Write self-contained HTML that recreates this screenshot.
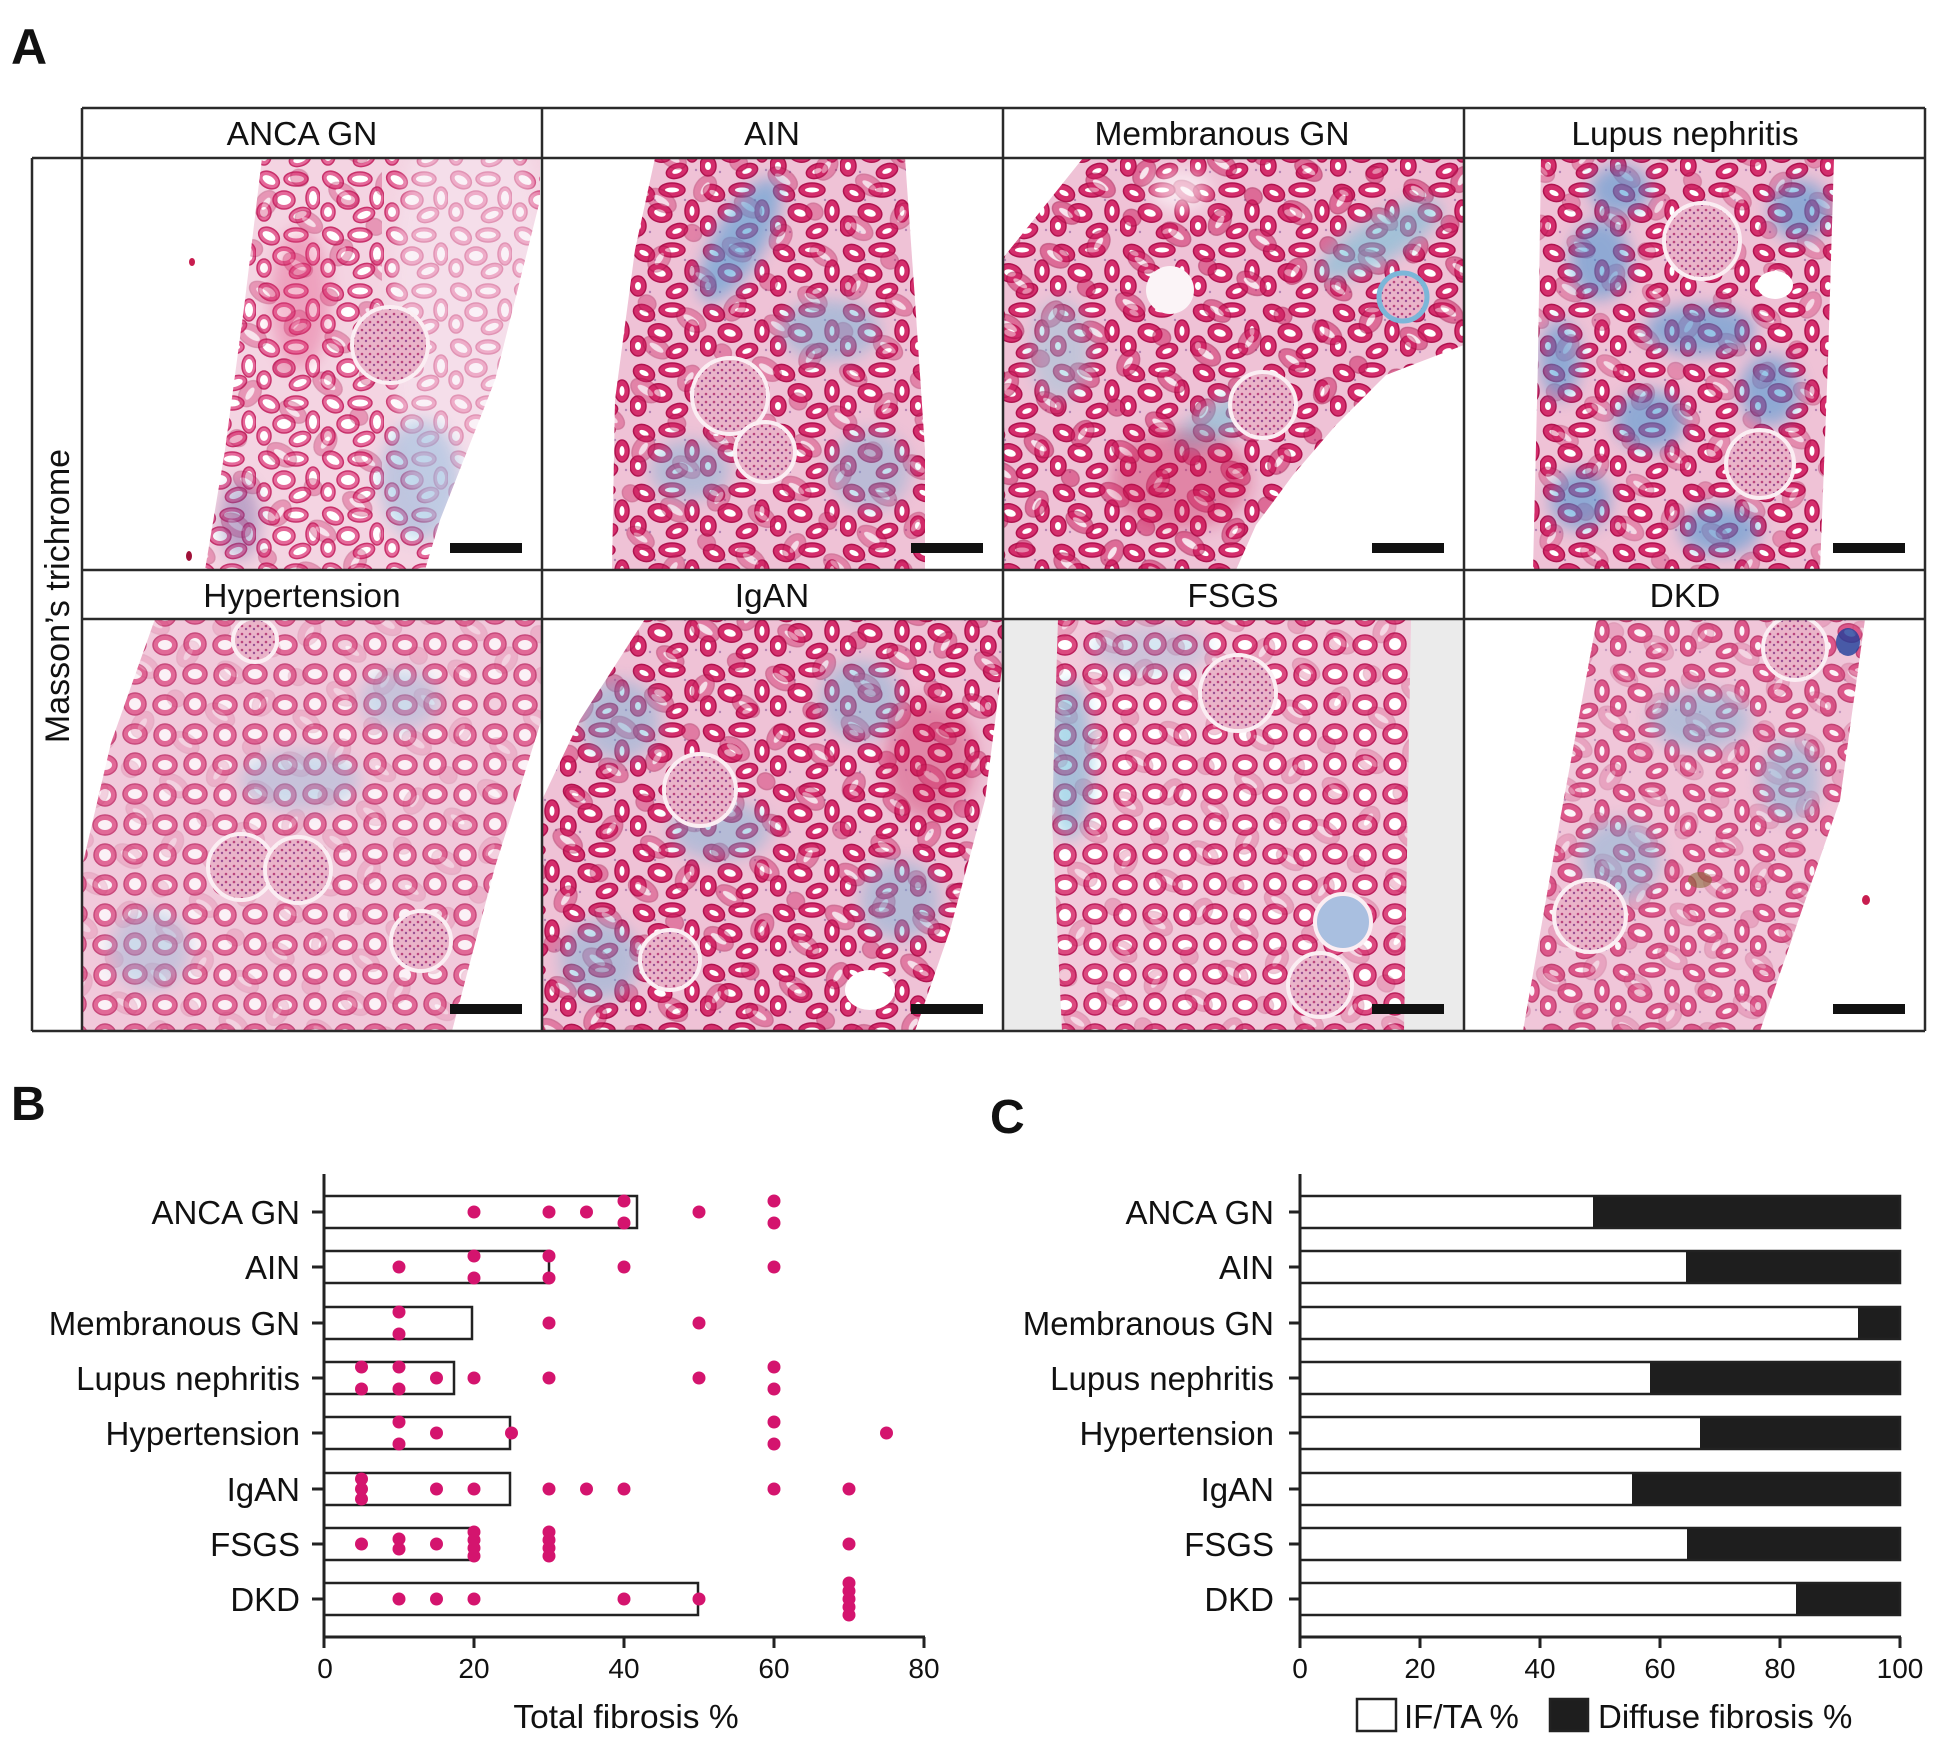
<!DOCTYPE html>
<html><head><meta charset="utf-8"><style>html,body{margin:0;padding:0;background:#fff}svg{display:block}</style></head>
<body>
<svg width="1941" height="1744" viewBox="0 0 1941 1744" xmlns="http://www.w3.org/2000/svg" font-family="Liberation Sans, Arial, sans-serif">
<defs>
<pattern id="pA" width="70" height="60" patternUnits="userSpaceOnUse">
<rect width="70" height="60" fill="#efc2d6"/>
<g fill="#d42e6c" stroke="#b0124e" stroke-width="1.5">
<ellipse cx="14" cy="13" rx="11" ry="8" transform="rotate(25 14 13)"/>
<ellipse cx="42" cy="10" rx="13" ry="7"/>
<ellipse cx="62" cy="31" rx="7" ry="11"/>
<ellipse cx="30" cy="33" rx="12" ry="9" transform="rotate(15 30 33)"/>
<ellipse cx="8" cy="46" rx="8" ry="10"/>
<ellipse cx="47" cy="51" rx="11" ry="7" transform="rotate(-20 47 51)"/>
</g>
<g fill="#fff">
<ellipse cx="14" cy="13" rx="5" ry="2.5" transform="rotate(25 14 13)"/>
<ellipse cx="42" cy="10" rx="7" ry="2.5"/>
<ellipse cx="62" cy="31" rx="2.5" ry="5"/>
<ellipse cx="30" cy="33" rx="6" ry="3.5" transform="rotate(15 30 33)"/>
<ellipse cx="8" cy="46" rx="3" ry="4"/>
<ellipse cx="47" cy="51" rx="5" ry="2.5" transform="rotate(-20 47 51)"/>
</g>
<g fill="#8d5a9e" opacity=".6"><circle cx="25" cy="20" r="1.2"/><circle cx="55" cy="20" r="1.2"/><circle cx="20" cy="52" r="1.2"/><circle cx="66" cy="50" r="1.2"/></g>
</pattern>
<pattern id="pA2" width="90" height="84" patternUnits="userSpaceOnUse" patternTransform="rotate(33)">
<rect width="90" height="84" fill="none"/>
<g fill="#cf2464" stroke="#a80e48" stroke-width="1.5">
<ellipse cx="20" cy="18" rx="15" ry="9"/>
<ellipse cx="64" cy="26" rx="10" ry="14"/>
<ellipse cx="34" cy="60" rx="16" ry="10"/>
<ellipse cx="78" cy="70" rx="9" ry="8"/>
</g>
<g fill="#fff">
<ellipse cx="20" cy="18" rx="8" ry="3"/>
<ellipse cx="64" cy="26" rx="3" ry="7"/>
<ellipse cx="34" cy="60" rx="9" ry="3.5"/>
</g>
</pattern>
<pattern id="pB" width="64" height="56" patternUnits="userSpaceOnUse">
<rect width="64" height="56" fill="#f4d4e2"/>
<g fill="#e5699a" stroke="#c8316b" stroke-width="1.5">
<ellipse cx="13" cy="12" rx="11" ry="8" transform="rotate(30 13 12)"/>
<ellipse cx="40" cy="11" rx="12" ry="7"/>
<ellipse cx="57" cy="30" rx="7" ry="11"/>
<ellipse cx="28" cy="32" rx="11" ry="9"/>
<ellipse cx="8" cy="44" rx="7" ry="9"/>
<ellipse cx="44" cy="47" rx="11" ry="7" transform="rotate(-20 44 47)"/>
</g>
<g fill="#fff">
<ellipse cx="13" cy="12" rx="7" ry="4" transform="rotate(30 13 12)"/>
<ellipse cx="40" cy="11" rx="8" ry="3.5"/>
<ellipse cx="57" cy="30" rx="4" ry="7"/>
<ellipse cx="28" cy="32" rx="7" ry="5"/>
<ellipse cx="8" cy="44" rx="4" ry="5"/>
<ellipse cx="44" cy="47" rx="7" ry="3.5" transform="rotate(-20 44 47)"/>
</g>
</pattern>
<pattern id="pC" width="60" height="60" patternUnits="userSpaceOnUse">
<rect width="60" height="60" fill="#f2cadb"/>
<g fill="#dc4a80" stroke="#bb1f5c" stroke-width="1.5">
<ellipse cx="15" cy="14" rx="12" ry="10"/>
<ellipse cx="45" cy="15" rx="11" ry="11"/>
<ellipse cx="15" cy="44" rx="11" ry="11"/>
<ellipse cx="45" cy="45" rx="12" ry="10"/>
</g>
<g fill="#fff">
<ellipse cx="15" cy="14" rx="7" ry="5"/>
<ellipse cx="45" cy="15" rx="6" ry="6"/>
<ellipse cx="15" cy="44" rx="6" ry="6"/>
<ellipse cx="45" cy="45" rx="7" ry="5"/>
</g>
</pattern>
<pattern id="pG" width="8" height="8" patternUnits="userSpaceOnUse">
<rect width="8" height="8" fill="#eab4c9"/>
<circle cx="2" cy="2" r="1.3" fill="#b9457e"/><circle cx="6" cy="5" r="1.2" fill="#9a4f95"/>
</pattern>
<filter id="bl" x="-50%" y="-50%" width="200%" height="200%"><feGaussianBlur stdDeviation="8"/></filter>
<clipPath id="t1"><polygon points="262,158 540,158 540,200 495,380 440,520 425,570 205,570 225,450 245,300"/></clipPath>
<clipPath id="t2"><polygon points="655,158 905,158 915,300 925,450 925,570 612,570 615,400 635,250"/></clipPath>
<clipPath id="t3"><polygon points="1083,158 1464,158 1464,345 1386,375 1336,425 1293,475 1256,525 1236,570 1003,570 1003,258"/></clipPath>
<clipPath id="t4"><polygon points="1541,158 1834,158 1828,360 1820,570 1533,570 1538,360"/></clipPath>
<clipPath id="t5"><polygon points="155,619 542,619 542,718 495,867 452,1031 82,1031 82,867 111,743"/></clipPath>
<clipPath id="t6"><polygon points="645,619 1003,619 1003,660 985,800 950,930 915,1031 542,1031 542,800 580,720"/></clipPath>
<clipPath id="t7"><polygon points="1058,619 1411,619 1404,1031 1062,1031 1052,820"/></clipPath>
<clipPath id="t8"><polygon points="1597,619 1865,619 1840,800 1760,1031 1523,1031 1560,820"/></clipPath>
</defs>

<!-- Panel letters -->
<text x="11" y="64" font-size="50" font-weight="bold" fill="#111">A</text>
<text x="11" y="1120" font-size="48" font-weight="bold" fill="#111">B</text>
<text x="990" y="1133" font-size="48" font-weight="bold" fill="#111">C</text>

<!-- FSGS gray background -->
<rect x="1003" y="619" width="461" height="412" fill="#ebebeb"/>

<!-- Tissue 1 ANCA -->
<g clip-path="url(#t1)">
<rect x="82" y="158" width="460" height="412" fill="url(#pB)"/>
<rect x="82" y="158" width="300" height="412" fill="url(#pA2)" opacity=".35"/>
<ellipse cx="470" cy="320" rx="80" ry="230" fill="#f6e6f0" opacity=".55" filter="url(#bl)"/>
<ellipse cx="420" cy="480" rx="40" ry="60" fill="#7fb4dc" opacity=".45" filter="url(#bl)"/>
<ellipse cx="300" cy="300" rx="30" ry="70" fill="#e2437c" opacity=".35" filter="url(#bl)"/>
<ellipse cx="240" cy="520" rx="20" ry="40" fill="#6a5aa0" opacity=".4" filter="url(#bl)"/>
<circle cx="390" cy="345" r="38" fill="url(#pG)" stroke="#fbeef3" stroke-width="4"/>
</g>
<ellipse cx="192" cy="262" rx="3" ry="4" fill="#c81d4f"/>
<ellipse cx="189" cy="556" rx="3" ry="5" fill="#a01038"/>

<!-- Tissue 2 AIN -->
<g clip-path="url(#t2)">
<rect x="542" y="158" width="461" height="412" fill="url(#pA)"/>
<rect x="542" y="158" width="461" height="412" fill="url(#pA2)" opacity=".4"/>
<ellipse cx="740" cy="240" rx="25" ry="70" fill="#4d9fd6" opacity=".6" filter="url(#bl)" transform="rotate(30 740 240)"/>
<ellipse cx="830" cy="330" rx="50" ry="30" fill="#6fb3d8" opacity=".5" filter="url(#bl)"/>
<ellipse cx="690" cy="470" rx="40" ry="30" fill="#6fb3d8" opacity=".45" filter="url(#bl)"/>
<ellipse cx="870" cy="470" rx="40" ry="40" fill="#6fb3d8" opacity=".4" filter="url(#bl)"/>
<circle cx="730" cy="396" r="38" fill="url(#pG)" stroke="#fbeef3" stroke-width="4"/>
<circle cx="765" cy="452" r="30" fill="url(#pG)" stroke="#fbeef3" stroke-width="4"/>
</g>

<!-- Tissue 3 Membranous -->
<g clip-path="url(#t3)">
<rect x="1003" y="158" width="461" height="412" fill="url(#pA)"/>
<rect x="1003" y="158" width="461" height="412" fill="url(#pA2)" opacity=".55"/>
<ellipse cx="1380" cy="240" rx="70" ry="22" fill="#6fc0d8" opacity=".6" filter="url(#bl)" transform="rotate(-30 1380 240)"/>
<ellipse cx="1220" cy="420" rx="50" ry="18" fill="#6fc0d8" opacity=".55" filter="url(#bl)" transform="rotate(-30 1220 420)"/>
<ellipse cx="1060" cy="350" rx="30" ry="50" fill="#8ac6dc" opacity=".45" filter="url(#bl)"/>
<ellipse cx="1180" cy="190" rx="30" ry="20" fill="#ffffff" opacity=".6" filter="url(#bl)"/>
<ellipse cx="1180" cy="480" rx="70" ry="50" fill="#c8124f" opacity=".35" filter="url(#bl)"/>
<circle cx="1263" cy="405" r="33" fill="url(#pG)" stroke="#fbeef3" stroke-width="4"/>
<circle cx="1403" cy="297" r="24" fill="url(#pG)" stroke="#7cb6d8" stroke-width="5"/>
<circle cx="1170" cy="290" r="24" fill="#fbf4f7"/>
</g>

<!-- Tissue 4 Lupus -->
<g clip-path="url(#t4)">
<rect x="1464" y="158" width="461" height="412" fill="url(#pA)"/>
<rect x="1464" y="158" width="461" height="412" fill="url(#pA2)" opacity=".35"/>
<g fill="#3f95d3" opacity=".55" filter="url(#bl)">
<ellipse cx="1600" cy="260" rx="30" ry="40"/>
<ellipse cx="1700" cy="330" rx="55" ry="25"/>
<ellipse cx="1650" cy="420" rx="35" ry="30"/>
<ellipse cx="1770" cy="390" rx="30" ry="35"/>
<ellipse cx="1580" cy="500" rx="30" ry="30"/>
<ellipse cx="1800" cy="210" rx="30" ry="30"/>
<ellipse cx="1720" cy="530" rx="40" ry="25"/>
<ellipse cx="1620" cy="190" rx="30" ry="25"/>
<ellipse cx="1560" cy="360" rx="20" ry="40"/>
</g>
<circle cx="1702" cy="241" r="38" fill="url(#pG)" stroke="#fbeef3" stroke-width="4"/>
<circle cx="1760" cy="464" r="34" fill="url(#pG)" stroke="#fbeef3" stroke-width="4"/>
<ellipse cx="1775" cy="285" rx="18" ry="14" fill="#fff"/>
</g>

<!-- Tissue 5 Hypertension -->
<g clip-path="url(#t5)">
<rect x="82" y="619" width="460" height="412" fill="url(#pC)"/>
<rect x="82" y="619" width="460" height="412" fill="url(#pA2)" opacity=".2"/>
<rect x="82" y="619" width="460" height="412" fill="#f0c9da" opacity=".25"/>
<g fill="#8ab8da" opacity=".4" filter="url(#bl)">
<ellipse cx="300" cy="780" rx="60" ry="30"/>
<ellipse cx="150" cy="950" rx="40" ry="40"/>
<ellipse cx="400" cy="700" rx="40" ry="30"/>
</g>
<circle cx="241" cy="867" r="33" fill="url(#pG)" stroke="#fbeef3" stroke-width="4"/>
<circle cx="298" cy="870" r="33" fill="url(#pG)" stroke="#fbeef3" stroke-width="4"/>
<circle cx="421" cy="941" r="30" fill="url(#pG)" stroke="#fbeef3" stroke-width="4"/>
<circle cx="255" cy="640" r="22" fill="url(#pG)" stroke="#fbeef3" stroke-width="4"/>
</g>

<!-- Tissue 6 IgAN -->
<g clip-path="url(#t6)">
<rect x="542" y="619" width="461" height="412" fill="url(#pA)"/>
<rect x="542" y="619" width="461" height="412" fill="url(#pA2)" opacity=".45"/>
<g fill="#6fb3d8" opacity=".45" filter="url(#bl)">
<ellipse cx="620" cy="720" rx="40" ry="40"/>
<ellipse cx="720" cy="830" rx="50" ry="30"/>
<ellipse cx="860" cy="700" rx="40" ry="40"/>
<ellipse cx="900" cy="900" rx="40" ry="40"/>
<ellipse cx="600" cy="960" rx="40" ry="40"/>
</g>
<ellipse cx="930" cy="760" rx="45" ry="60" fill="#c8124f" opacity=".35" filter="url(#bl)"/>
<circle cx="700" cy="790" r="36" fill="url(#pG)" stroke="#fbeef3" stroke-width="4"/>
<circle cx="670" cy="960" r="30" fill="url(#pG)" stroke="#fbeef3" stroke-width="4"/>
<ellipse cx="870" cy="990" rx="25" ry="20" fill="#fff"/>
</g>

<!-- Tissue 7 FSGS -->
<g clip-path="url(#t7)">
<rect x="1003" y="619" width="461" height="412" fill="url(#pC)"/>
<rect x="1003" y="619" width="461" height="412" fill="url(#pA2)" opacity=".25"/>
<ellipse cx="1070" cy="760" rx="22" ry="80" fill="#5fb3d6" opacity=".5" filter="url(#bl)"/>
<ellipse cx="1150" cy="650" rx="60" ry="25" fill="#8ab8da" opacity=".35" filter="url(#bl)"/>
<circle cx="1238" cy="693" r="38" fill="url(#pG)" stroke="#fbeef3" stroke-width="4"/>
<circle cx="1343" cy="922" r="28" fill="#a9bfe0" stroke="#fbeef3" stroke-width="4"/>
<circle cx="1320" cy="985" r="32" fill="url(#pG)" stroke="#fbeef3" stroke-width="4"/>
</g>

<!-- Tissue 8 DKD -->
<g clip-path="url(#t8)">
<rect x="1464" y="619" width="461" height="412" fill="url(#pA)"/>
<rect x="1464" y="619" width="461" height="412" fill="url(#pA2)" opacity=".3"/>
<rect x="1464" y="619" width="461" height="412" fill="#f4d4e2" opacity=".25"/>
<g fill="#6fb3d8" opacity=".45" filter="url(#bl)">
<ellipse cx="1700" cy="720" rx="50" ry="30"/>
<ellipse cx="1620" cy="860" rx="40" ry="40"/>
<ellipse cx="1790" cy="780" rx="30" ry="40"/>
</g>
<ellipse cx="1848" cy="642" rx="12" ry="14" fill="#1e3f9a" opacity=".8"/>
<circle cx="1795" cy="648" r="32" fill="url(#pG)" stroke="#fbeef3" stroke-width="4"/>
<circle cx="1590" cy="916" r="36" fill="url(#pG)" stroke="#fbeef3" stroke-width="4"/>
<ellipse cx="1700" cy="880" rx="12" ry="8" fill="#8a6a3a" opacity=".6"/>
</g>
<ellipse cx="1866" cy="900" rx="4" ry="5" fill="#c81d4f"/>

<!-- Scale bars -->
<g fill="#111">
<rect x="450" y="543" width="72" height="10"/>
<rect x="911" y="543" width="72" height="10"/>
<rect x="1372" y="543" width="72" height="10"/>
<rect x="1833" y="543" width="72" height="10"/>
<rect x="450" y="1004" width="72" height="10"/>
<rect x="911" y="1004" width="72" height="10"/>
<rect x="1372" y="1004" width="72" height="10"/>
<rect x="1833" y="1004" width="72" height="10"/>
</g>

<!-- Grid lines -->
<g stroke="#2a2a2a" stroke-width="2.5" fill="none">
<line x1="82" y1="108" x2="1925" y2="108"/>
<line x1="32" y1="158" x2="1925" y2="158"/>
<line x1="82" y1="570" x2="1925" y2="570"/>
<line x1="82" y1="619" x2="1925" y2="619"/>
<line x1="32" y1="1031" x2="1925" y2="1031"/>
<line x1="32" y1="158" x2="32" y2="1031"/>
<line x1="82" y1="108" x2="82" y2="1031"/>
<line x1="542" y1="108" x2="542" y2="1031"/>
<line x1="1003" y1="108" x2="1003" y2="1031"/>
<line x1="1464" y1="108" x2="1464" y2="1031"/>
<line x1="1925" y1="108" x2="1925" y2="1031"/>
</g>

<!-- Headers -->
<g font-size="33.5" fill="#111" text-anchor="middle">
<text x="302" y="145">ANCA GN</text>
<text x="772" y="145">AIN</text>
<text x="1222" y="145">Membranous GN</text>
<text x="1685" y="145">Lupus nephritis</text>
<text x="302" y="607">Hypertension</text>
<text x="772" y="607">IgAN</text>
<text x="1233" y="607">FSGS</text>
<text x="1685" y="607">DKD</text>
</g>
<text transform="translate(69 596) rotate(-90)" font-size="34" fill="#111" text-anchor="middle">Masson’s trichrome</text>

<!-- Panel B -->
<g stroke="#222" stroke-width="2.5" fill="#fff">
<rect x="324" y="1196" width="313" height="32"/>
<rect x="324" y="1251" width="225" height="32"/>
<rect x="324" y="1307" width="148" height="32"/>
<rect x="324" y="1362" width="130" height="32"/>
<rect x="324" y="1417" width="186" height="32"/>
<rect x="324" y="1473" width="186" height="32"/>
<rect x="324" y="1528" width="148" height="32"/>
<rect x="324" y="1583" width="374" height="32"/>
</g>
<g fill="#d4146e">
<circle cx="474" cy="1212" r="6.5"/><circle cx="549" cy="1212" r="6.5"/><circle cx="586.5" cy="1212" r="6.5"/>
<circle cx="624" cy="1201" r="6.5"/><circle cx="624" cy="1223" r="6.5"/><circle cx="699" cy="1212" r="6.5"/>
<circle cx="774" cy="1201" r="6.5"/><circle cx="774" cy="1223" r="6.5"/>
<circle cx="399" cy="1267" r="6.5"/><circle cx="474" cy="1256" r="6.5"/><circle cx="474" cy="1278" r="6.5"/>
<circle cx="549" cy="1256" r="6.5"/><circle cx="549" cy="1278" r="6.5"/><circle cx="624" cy="1267" r="6.5"/><circle cx="774" cy="1267" r="6.5"/>
<circle cx="399" cy="1312" r="6.5"/><circle cx="399" cy="1334" r="6.5"/><circle cx="549" cy="1323" r="6.5"/><circle cx="699" cy="1323" r="6.5"/>
<circle cx="361.5" cy="1367" r="6.5"/><circle cx="361.5" cy="1389" r="6.5"/><circle cx="399" cy="1367" r="6.5"/><circle cx="399" cy="1389" r="6.5"/>
<circle cx="436.5" cy="1378" r="6.5"/><circle cx="474" cy="1378" r="6.5"/><circle cx="549" cy="1378" r="6.5"/><circle cx="699" cy="1378" r="6.5"/>
<circle cx="774" cy="1367" r="6.5"/><circle cx="774" cy="1389" r="6.5"/>
<circle cx="399" cy="1422" r="6.5"/><circle cx="399" cy="1444" r="6.5"/><circle cx="436.5" cy="1433" r="6.5"/><circle cx="511.5" cy="1433" r="6.5"/>
<circle cx="774" cy="1422" r="6.5"/><circle cx="774" cy="1444" r="6.5"/><circle cx="886.5" cy="1433" r="6.5"/>
<circle cx="361.5" cy="1479" r="6.5"/><circle cx="361.5" cy="1489" r="6.5"/><circle cx="361.5" cy="1499" r="6.5"/>
<circle cx="436.5" cy="1489" r="6.5"/><circle cx="474" cy="1489" r="6.5"/><circle cx="549" cy="1489" r="6.5"/><circle cx="586.5" cy="1489" r="6.5"/>
<circle cx="624" cy="1489" r="6.5"/><circle cx="774" cy="1489" r="6.5"/><circle cx="849" cy="1489" r="6.5"/>
<circle cx="361.5" cy="1544" r="6.5"/><circle cx="399" cy="1539" r="6.5"/><circle cx="399" cy="1549" r="6.5"/><circle cx="436.5" cy="1544" r="6.5"/>
<circle cx="474" cy="1532" r="6.5"/><circle cx="474" cy="1540" r="6.5"/><circle cx="474" cy="1548" r="6.5"/><circle cx="474" cy="1556" r="6.5"/>
<circle cx="549" cy="1532" r="6.5"/><circle cx="549" cy="1540" r="6.5"/><circle cx="549" cy="1548" r="6.5"/><circle cx="549" cy="1556" r="6.5"/>
<circle cx="849" cy="1544" r="6.5"/>
<circle cx="399" cy="1599" r="6.5"/><circle cx="436.5" cy="1599" r="6.5"/><circle cx="474" cy="1599" r="6.5"/><circle cx="624" cy="1599" r="6.5"/><circle cx="699" cy="1599" r="6.5"/>
<circle cx="849" cy="1583" r="6.5"/><circle cx="849" cy="1591" r="6.5"/><circle cx="849" cy="1599" r="6.5"/><circle cx="849" cy="1607" r="6.5"/><circle cx="849" cy="1615" r="6.5"/>
</g>
<g stroke="#222" stroke-width="3" fill="none">
<line x1="324" y1="1174" x2="324" y2="1638"/>
<line x1="323" y1="1637" x2="925" y2="1637"/>
<line x1="312" y1="1212" x2="324" y2="1212"/><line x1="312" y1="1267" x2="324" y2="1267"/>
<line x1="312" y1="1323" x2="324" y2="1323"/><line x1="312" y1="1378" x2="324" y2="1378"/>
<line x1="312" y1="1433" x2="324" y2="1433"/><line x1="312" y1="1489" x2="324" y2="1489"/>
<line x1="312" y1="1544" x2="324" y2="1544"/><line x1="312" y1="1599" x2="324" y2="1599"/>
<line x1="324" y1="1637" x2="324" y2="1648"/><line x1="474" y1="1637" x2="474" y2="1648"/>
<line x1="624" y1="1637" x2="624" y2="1648"/><line x1="774" y1="1637" x2="774" y2="1648"/>
<line x1="924" y1="1637" x2="924" y2="1648"/>
</g>
<g font-size="33" fill="#111" text-anchor="end">
<text x="300" y="1224">ANCA GN</text>
<text x="300" y="1279">AIN</text>
<text x="300" y="1335">Membranous GN</text>
<text x="300" y="1390">Lupus nephritis</text>
<text x="300" y="1445">Hypertension</text>
<text x="300" y="1501">IgAN</text>
<text x="300" y="1556">FSGS</text>
<text x="300" y="1611">DKD</text>
</g>
<g font-size="28" fill="#111" text-anchor="middle">
<text x="325" y="1678">0</text><text x="474" y="1678">20</text><text x="624" y="1678">40</text>
<text x="774" y="1678">60</text><text x="924" y="1678">80</text>
</g>
<text x="626" y="1728" font-size="33.5" fill="#111" text-anchor="middle">Total fibrosis %</text>

<!-- Panel C -->
<g fill="#1e1e1e">
<rect x="1593" y="1196" width="307" height="32"/>
<rect x="1686" y="1251" width="214" height="32"/>
<rect x="1858" y="1307" width="42" height="32"/>
<rect x="1650" y="1362" width="250" height="32"/>
<rect x="1700" y="1417" width="200" height="32"/>
<rect x="1632" y="1473" width="268" height="32"/>
<rect x="1687" y="1528" width="213" height="32"/>
<rect x="1796" y="1583" width="104" height="32"/>
</g>
<g stroke="#222" stroke-width="2.5" fill="none">
<rect x="1300" y="1196" width="600" height="32"/>
<rect x="1300" y="1251" width="600" height="32"/>
<rect x="1300" y="1307" width="600" height="32"/>
<rect x="1300" y="1362" width="600" height="32"/>
<rect x="1300" y="1417" width="600" height="32"/>
<rect x="1300" y="1473" width="600" height="32"/>
<rect x="1300" y="1528" width="600" height="32"/>
<rect x="1300" y="1583" width="600" height="32"/>
</g>
<g stroke="#222" stroke-width="3" fill="none">
<line x1="1300" y1="1174" x2="1300" y2="1638"/>
<line x1="1299" y1="1637" x2="1901" y2="1637"/>
<line x1="1289" y1="1212" x2="1300" y2="1212"/><line x1="1289" y1="1267" x2="1300" y2="1267"/>
<line x1="1289" y1="1323" x2="1300" y2="1323"/><line x1="1289" y1="1378" x2="1300" y2="1378"/>
<line x1="1289" y1="1433" x2="1300" y2="1433"/><line x1="1289" y1="1489" x2="1300" y2="1489"/>
<line x1="1289" y1="1544" x2="1300" y2="1544"/><line x1="1289" y1="1599" x2="1300" y2="1599"/>
<line x1="1300" y1="1637" x2="1300" y2="1648"/><line x1="1420" y1="1637" x2="1420" y2="1648"/>
<line x1="1540" y1="1637" x2="1540" y2="1648"/><line x1="1660" y1="1637" x2="1660" y2="1648"/>
<line x1="1780" y1="1637" x2="1780" y2="1648"/><line x1="1900" y1="1637" x2="1900" y2="1648"/>
</g>
<g font-size="33" fill="#111" text-anchor="end">
<text x="1274" y="1224">ANCA GN</text>
<text x="1274" y="1279">AIN</text>
<text x="1274" y="1335">Membranous GN</text>
<text x="1274" y="1390">Lupus nephritis</text>
<text x="1274" y="1445">Hypertension</text>
<text x="1274" y="1501">IgAN</text>
<text x="1274" y="1556">FSGS</text>
<text x="1274" y="1611">DKD</text>
</g>
<g font-size="28" fill="#111" text-anchor="middle">
<text x="1300" y="1678">0</text><text x="1420" y="1678">20</text><text x="1540" y="1678">40</text>
<text x="1660" y="1678">60</text><text x="1780" y="1678">80</text><text x="1900" y="1678">100</text>
</g>
<!-- Legend -->
<rect x="1357" y="1699" width="39" height="32" fill="#fff" stroke="#222" stroke-width="2.5"/>
<text x="1404" y="1728" font-size="33" fill="#111">IF/TA %</text>
<rect x="1550" y="1699" width="38" height="32" fill="#1e1e1e" stroke="#222" stroke-width="2.5"/>
<text x="1598" y="1728" font-size="33" fill="#111">Diffuse fibrosis %</text>
</svg>
</body></html>
